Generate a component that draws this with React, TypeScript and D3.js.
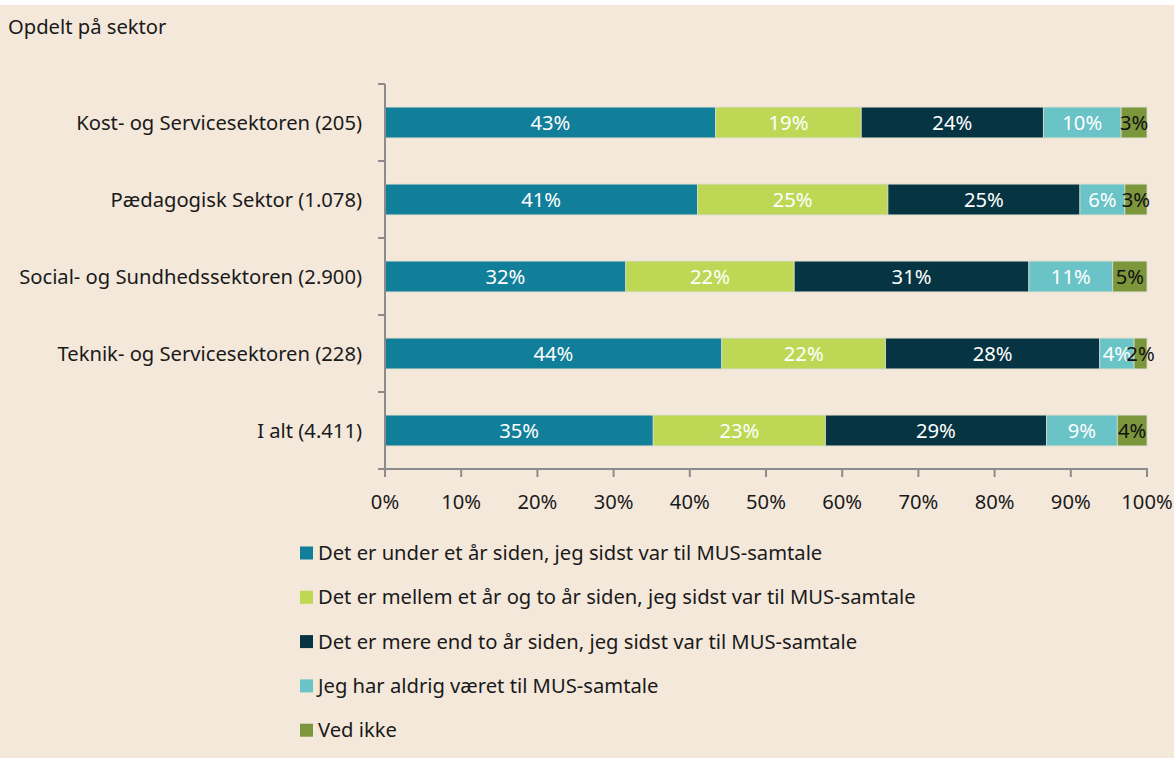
import React from "react";
import * as d3 from "d3";

const categories = [
  "Kost- og Servicesektoren (205)",
  "Pædagogisk Sektor (1.078)",
  "Social- og Sundhedssektoren (2.900)",
  "Teknik- og Servicesektoren (228)",
  "I alt (4.411)",
];

const seriesNames = [
  "Det er under et år siden, jeg sidst var til MUS-samtale",
  "Det er mellem et år og to år siden, jeg sidst var til MUS-samtale",
  "Det er mere end to år siden, jeg sidst var til MUS-samtale",
  "Jeg har aldrig været til MUS-samtale",
  "Ved ikke",
];

// values per series (one per category), in percent
const underEtAar = [43.4, 41.0, 31.6, 44.2, 35.2];
const mellemEtOgTo = [19.1, 25.0, 22.1, 21.5, 22.6];
const mereEndTo = [23.9, 25.2, 30.8, 28.1, 29.0];
const aldrig = [10.2, 5.9, 11.0, 4.5, 9.3];
const vedIkke = [3.4, 2.9, 4.5, 1.7, 3.9];

// displayed labels
const lblUnder = ["43%", "41%", "32%", "44%", "35%"];
const lblMellem = ["19%", "25%", "22%", "22%", "23%"];
const lblMere = ["24%", "25%", "31%", "28%", "29%"];
const lblAldrig = ["10%", "6%", "11%", "4%", "9%"];
const lblVed = ["3%", "3%", "5%", "2%", "4%"];

const xTicks = [0, 10, 20, 30, 40, 50, 60, 70, 80, 90, 100];

const colors = ["#117E9A", "#BED855", "#073442", "#6AC3C6", "#7C963C"];
const labelColors = ["#FFFFFF", "#FFFFFF", "#FFFFFF", "#FFFFFF", "#111111"];

const W = 1174;
const H = 758;
const FONT = "'Noto Sans', 'Open Sans', sans-serif";
const FS = 20.2;

export default function App() {
  const seriesVals = [underEtAar, mellemEtOgTo, mereEndTo, aldrig, vedIkke];
  const seriesLbls = [lblUnder, lblMellem, lblMere, lblAldrig, lblVed];

  const x = d3.scaleLinear().domain([0, 100]).range([385, 1147]);
  const y = d3
    .scaleBand<string>()
    .domain(categories)
    .range([84, 469])
    .paddingInner(0.6)
    .paddingOuter(0.3);

  const table = categories.map((c, i) => {
    const row: any = { cat: c };
    seriesNames.forEach((s, j) => (row[s] = seriesVals[j][i]));
    return row;
  });
  const stacked = d3.stack<any>().keys(seriesNames)(table);

  const axisColor = "#8C8C8C";
  const boundaries = d3.range(categories.length + 1).map((i) => 84 + i * (385 / categories.length));

  return (
    <svg
      width={W}
      height={H}
      style={{ position: "absolute", left: 0, top: 0, fontFamily: FONT }}
    >
      <rect x={0} y={0} width={W} height={H} fill="#FFFFFF" />
      <rect x={0} y={5} width={W} height={H - 5} fill="#F4E8DB" />
      <text x={8} y={34} fontSize={FS} fill="#1a1a1a">
        Opdelt på sektor
      </text>

      {/* bars */}
      {stacked.map((layer, j) => (
        <g key={j}>
          {layer.map((d, i) => {
            const x0 = x(d[0]);
            const x1 = x(d[1]);
            const yy = y(categories[i])!;
            return (
              <rect
                key={i}
                x={x0}
                y={yy}
                width={x1 - x0}
                height={y.bandwidth()}
                fill={colors[j]}
                stroke="#D8DCCB"
                strokeWidth={0.8}
              />
            );
          })}
        </g>
      ))}
      {stacked.map((layer, j) => (
        <g key={"l" + j}>
          {layer.map((d, i) => {
            const x0 = x(d[0]);
            const x1 = x(d[1]);
            const yy = y(categories[i])!;
            return (
              <text
                key={i}
                x={(x0 + x1) / 2}
                y={yy + y.bandwidth() / 2}
                dy="0.35em"
                textAnchor="middle"
                fontSize={FS}
                fill={labelColors[j]}
              >
                {seriesLbls[j][i]}
              </text>
            );
          })}
        </g>
      ))}

      {/* y axis */}
      <line x1={385} x2={385} y1={84} y2={469} stroke={axisColor} strokeWidth={2} />
      {boundaries.map((b, i) => (
        <line key={i} x1={378} x2={385} y1={b} y2={b} stroke={axisColor} strokeWidth={2} />
      ))}
      {categories.map((c) => (
        <text
          key={c}
          x={362}
          y={y(c)! + y.bandwidth() / 2}
          dy="0.35em"
          textAnchor="end"
          fontSize={FS}
          fill="#1a1a1a"
        >
          {c}
        </text>
      ))}

      {/* x axis */}
      <line x1={384} x2={1148} y1={469} y2={469} stroke={axisColor} strokeWidth={2} />
      {xTicks.map((t) => (
        <g key={t}>
          <line x1={x(t)} x2={x(t)} y1={469} y2={477} stroke={axisColor} strokeWidth={2} />
          <text
            x={x(t)}
            y={502}
            dy="0.35em"
            textAnchor="middle"
            fontSize={FS}
            fill="#1a1a1a"
          >
            {t + "%"}
          </text>
        </g>
      ))}

      {/* legend */}
      {seriesNames.map((s, j) => {
        const ly = 553 + j * 44.3;
        return (
          <g key={s}>
            <rect x={300} y={ly - 6.5} width={13} height={13} fill={colors[j]} />
            <text x={318} y={ly} dy="0.35em" fontSize={FS} fill="#1a1a1a">
              {s}
            </text>
          </g>
        );
      })}
    </svg>
  );
}
